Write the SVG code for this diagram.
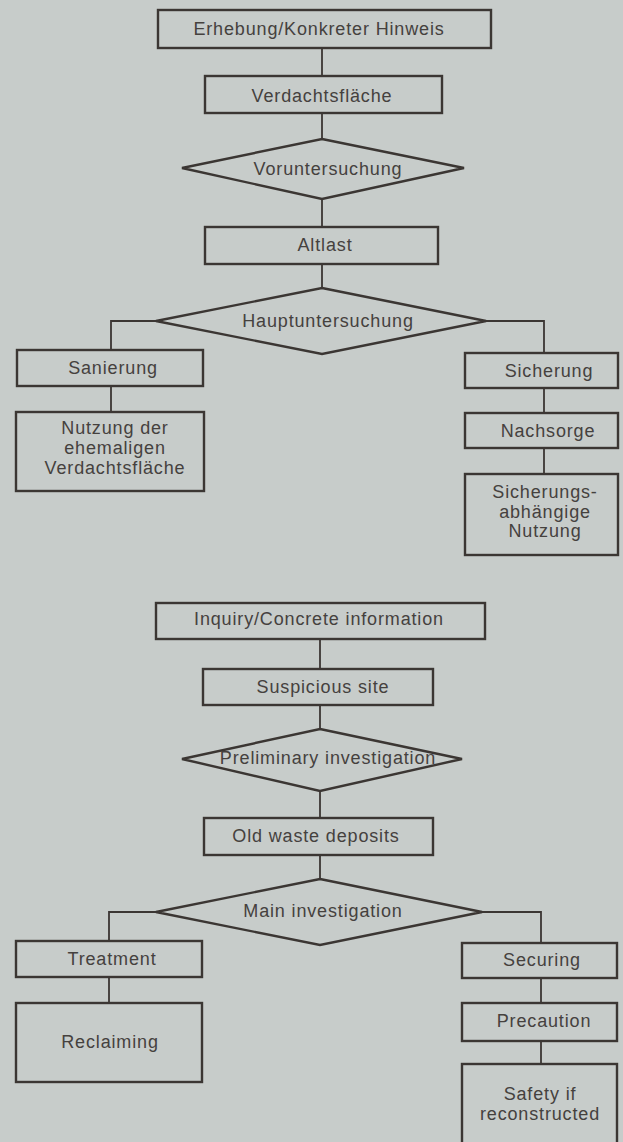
<svg xmlns="http://www.w3.org/2000/svg" width="623" height="1142" viewBox="0 0 623 1142">
<style>
.bg{fill:#c7ccca}
.box{fill:none;stroke:#3b3633;stroke-width:2.4}
.conn{fill:none;stroke:#3b3633;stroke-width:1.8}
text{font-family:"Liberation Sans",Arial,Helvetica,sans-serif;font-size:18px;letter-spacing:0.85px;fill:#45413e;text-anchor:middle;dominant-baseline:central}
</style>
<rect class="bg" x="0" y="0" width="623" height="1142"/>
<g id="connectors">
<line class="conn" x1="322" y1="48" x2="322" y2="76"/>
<line class="conn" x1="322" y1="113" x2="322" y2="139"/>
<line class="conn" x1="322" y1="199" x2="322" y2="227"/>
<line class="conn" x1="322" y1="264" x2="322" y2="288"/>
<polyline class="conn" points="156,321 111,321 111,350"/>
<line class="conn" x1="111" y1="386" x2="111" y2="412"/>
<polyline class="conn" points="486,321 544,321 544,353"/>
<line class="conn" x1="544" y1="388" x2="544" y2="413"/>
<line class="conn" x1="544" y1="448" x2="544" y2="474"/>
<line class="conn" x1="320" y1="639" x2="320" y2="669"/>
<line class="conn" x1="320" y1="705" x2="320" y2="729"/>
<line class="conn" x1="320" y1="791" x2="320" y2="818"/>
<line class="conn" x1="320" y1="855" x2="320" y2="879"/>
<polyline class="conn" points="156,912 109,912 109,941"/>
<line class="conn" x1="109" y1="977" x2="109" y2="1003"/>
<polyline class="conn" points="482,912 541,912 541,943"/>
<line class="conn" x1="541" y1="978" x2="541" y2="1003"/>
<line class="conn" x1="541" y1="1041" x2="541" y2="1064"/>
</g>
<g id="n1"><rect class="box" x="158" y="10" width="333" height="38"/><text x="319" y="29">Erhebung/Konkreter Hinweis</text></g>
<g id="n2"><rect class="box" x="205" y="76" width="237" height="37"/><text x="322" y="96">Verdachtsfläche</text></g>
<g id="n3"><polygon class="box" points="322,139 464,168 322,199 182,168"/><text x="328" y="169">Voruntersuchung</text></g>
<g id="n4"><rect class="box" x="205" y="227" width="233" height="37"/><text x="325" y="245">Altlast</text></g>
<g id="n5"><polygon class="box" points="322,288 486,321 322,354 156,321"/><text x="328" y="321">Hauptuntersuchung</text></g>
<g id="n6"><rect class="box" x="17" y="350" width="186" height="36"/><text x="113" y="368">Sanierung</text></g>
<g id="n7"><rect class="box" x="16" y="412" width="188" height="79"/><text x="115" y="428">Nutzung der</text><text x="115" y="448">ehemaligen</text><text x="115" y="468">Verdachtsfläche</text></g>
<g id="n8"><rect class="box" x="465" y="353" width="153" height="35"/><text x="549" y="371">Sicherung</text></g>
<g id="n9"><rect class="box" x="465" y="413" width="153" height="35"/><text x="548" y="431">Nachsorge</text></g>
<g id="n10"><rect class="box" x="465" y="474" width="153" height="81"/><text x="545" y="492">Sicherungs-</text><text x="545" y="512">abhängige</text><text x="545" y="531">Nutzung</text></g>
<g id="e1"><rect class="box" x="156" y="603" width="329" height="36"/><text x="319" y="619">Inquiry/Concrete information</text></g>
<g id="e2"><rect class="box" x="203" y="669" width="230" height="36"/><text x="323" y="687">Suspicious site</text></g>
<g id="e3"><polygon class="box" points="320,729 462,759 320,791 182,759"/><text x="328" y="758">Preliminary investigation</text></g>
<g id="e4"><rect class="box" x="204" y="818" width="229" height="37"/><text x="316" y="836">Old waste deposits</text></g>
<g id="e5"><polygon class="box" points="320,879 482,912 320,945 156,912"/><text x="323" y="911">Main investigation</text></g>
<g id="e6"><rect class="box" x="16" y="941" width="186" height="36"/><text x="112" y="959">Treatment</text></g>
<g id="e7"><rect class="box" x="16" y="1003" width="186" height="79"/><text x="110" y="1042">Reclaiming</text></g>
<g id="e8"><rect class="box" x="462" y="943" width="155" height="35"/><text x="542" y="960">Securing</text></g>
<g id="e9"><rect class="box" x="462" y="1003" width="155" height="38"/><text x="544" y="1021">Precaution</text></g>
<g id="e10"><rect class="box" x="462" y="1064" width="155" height="90"/><text x="540" y="1094">Safety if</text><text x="540" y="1114">reconstructed</text></g>
</svg>
